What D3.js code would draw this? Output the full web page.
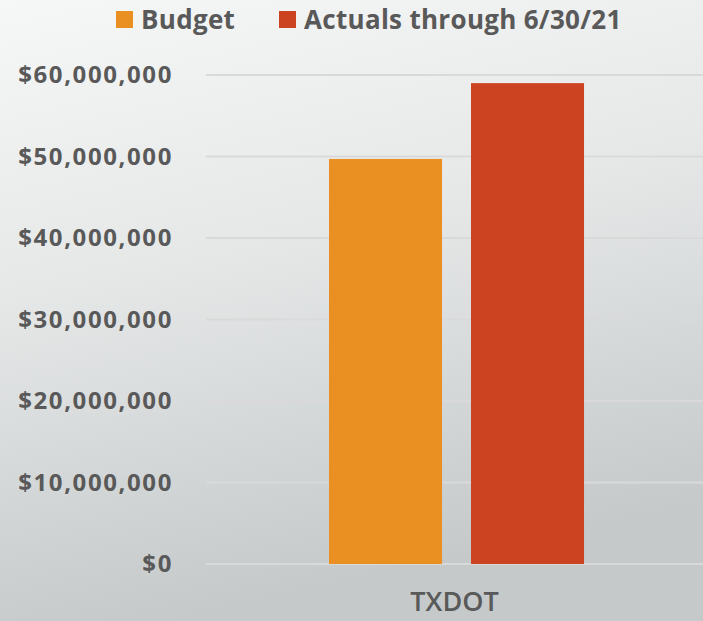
<!DOCTYPE html>
<html>
<head>
<meta charset="utf-8">
<script src="https://cdn.jsdelivr.net/npm/d3@7"></script>
<style>
  body { margin: 0; overflow: hidden; }
  svg { display: block; font-family: "Open Sans", "Noto Sans", sans-serif; }
</style>
</head>
<body>
<script>
// chart values
var categories = ["TXDOT"];
var seriesNames = ["Budget", "Actuals through 6/30/21"];
var budget = [49700000];
var actuals = [59000000];
var yTicks = [0, 10000000, 20000000, 30000000, 40000000, 50000000, 60000000];

const w = 703;
const h = 621;
const colors = ["#EA8F22", "#CC4321"];

var svg = d3.select("body").append("svg")
            .attr("width", w)
            .attr("height", h);

// background gradient
var defs = svg.append("defs");
var grad = defs.append("linearGradient")
               .attr("id", "bg")
               .attr("x1", "0").attr("y1", "0")
               .attr("x2", "0.25").attr("y2", "1");
grad.append("stop").attr("offset", "0%").attr("stop-color", "#f6f7f7");
grad.append("stop").attr("offset", "45%").attr("stop-color", "#e6e8e8");
grad.append("stop").attr("offset", "100%").attr("stop-color", "#c5c9ca");
svg.append("rect").attr("width", w).attr("height", h).attr("fill", "url(#bg)");

// scales
var x0 = d3.scaleBand().domain(categories).range([206, 703]);
var x1 = d3.scaleBand().domain(seriesNames)
           .range([x0.bandwidth() * 0.2475, x0.bandwidth() * 0.7606])
           .paddingInner(0.204);
var y = d3.scaleLinear().domain([0, 60000000]).range([564, 75]);

// gridlines
svg.append("g")
   .selectAll("line")
   .data(yTicks)
   .enter()
   .append("line")
   .attr("x1", 206)
   .attr("x2", w)
   .attr("y1", function(d) { return y(d); })
   .attr("y2", function(d) { return y(d); })
   .attr("stroke", "#d9d9d9")
   .attr("stroke-width", 2);

// y axis labels
var yAxis = d3.axisLeft(y)
              .tickValues(yTicks)
              .tickSize(0)
              .tickPadding(0)
              .tickFormat(function(d) { return "$" + d3.format(",")(d); });
var ya = svg.append("g")
            .attr("transform", "translate(173,0)")
            .call(yAxis);
ya.select(".domain").remove();
ya.selectAll("text")
  .attr("fill", "#595959")
  .style("font-size", "24px")
  .style("font-weight", "bold")
  .style("letter-spacing", "1.6px")
  .style("font-family", "'Open Sans', sans-serif");

// bars
var rows = categories.map(function(c, i) {
  return { cat: c, vals: [budget[i], actuals[i]] };
});
var groups = svg.selectAll(".grp")
                .data(rows)
                .enter()
                .append("g")
                .attr("transform", function(d) { return "translate(" + x0(d.cat) + ",0)"; });
groups.selectAll("rect")
      .data(function(d) { return d.vals.map(function(v, j) { return { name: seriesNames[j], v: v, j: j }; }); })
      .enter()
      .append("rect")
      .attr("x", function(d) { return x1(d.name); })
      .attr("width", x1.bandwidth())
      .attr("y", function(d) { return y(d.v); })
      .attr("height", function(d) { return y(0) - y(d.v); })
      .attr("fill", function(d) { return colors[d.j]; });

// category axis
var xa = svg.append("g")
            .attr("transform", "translate(0,564)")
            .call(d3.axisBottom(x0).tickSize(0).tickPadding(28));
xa.select(".domain").remove();
xa.selectAll("text")
  .attr("fill", "#595959")
  .style("font-size", "27px")
  .style("font-weight", "600")
  .style("font-family", "'Open Sans', sans-serif");

// legend
var legendX = [116, 279];
var legend = svg.selectAll(".leg")
                .data(seriesNames)
                .enter()
                .append("g")
                .attr("transform", function(d, i) { return "translate(" + legendX[i] + ",11)"; });
legend.append("rect")
      .attr("width", 17)
      .attr("height", 17)
      .attr("fill", function(d, i) { return colors[i]; });
legend.append("text")
      .attr("x", 25)
      .attr("y", 18)
      .attr("fill", "#595959")
      .style("font-size", "26px")
      .style("font-weight", "bold")
      .style("letter-spacing", "0.3px")
      .text(function(d) { return d; });
</script>
</body>
</html>
